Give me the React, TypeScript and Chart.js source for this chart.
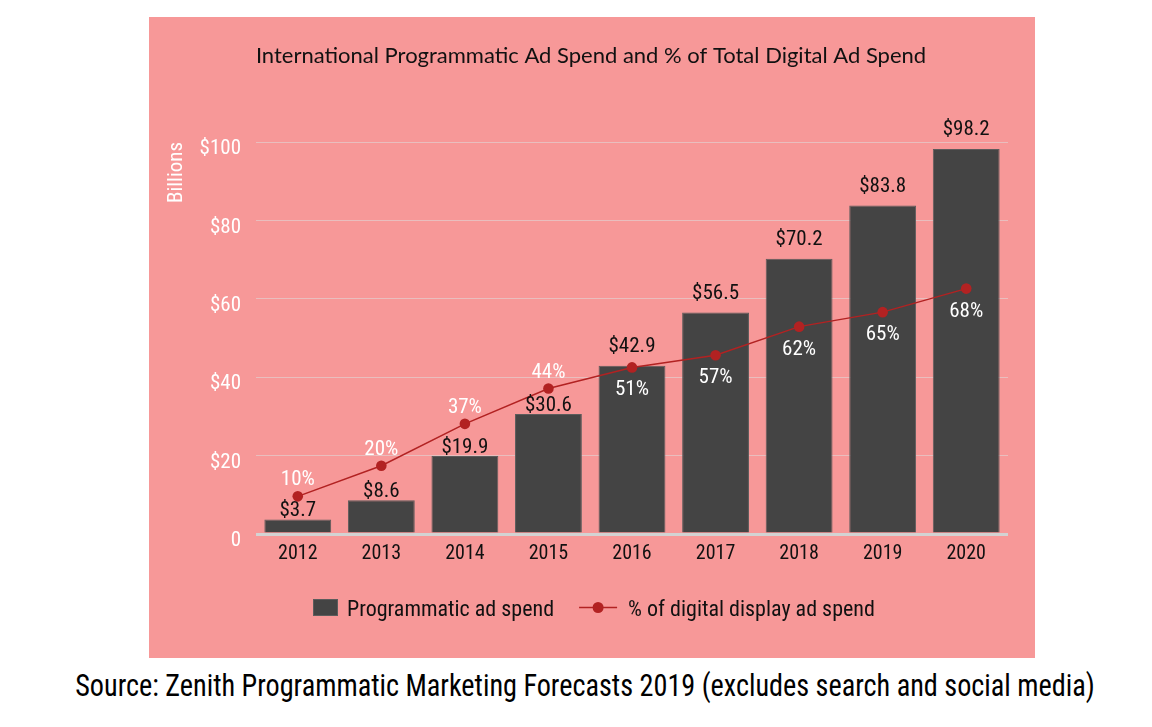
import { useEffect, useRef } from 'react';
import { Chart, registerables } from 'chart.js';

Chart.register(...registerables);

// ---- data ----
const years = ['2012', '2013', '2014', '2015', '2016', '2017', '2018', '2019', '2020'];
const spendBillions = [3.7, 8.6, 19.9, 30.6, 42.9, 56.5, 70.2, 83.8, 98.2];
const shareOfDisplayPct = [10, 20, 37, 44, 51, 57, 62, 65, 68];
// height of each share marker as drawn in the picture, read on the left axis
const sharePointLevel = [9.6, 17.4, 28.1, 37.1, 42.5, 45.6, 52.9, 56.6, 62.6];
const yTickValues = [0, 20, 40, 60, 80, 100];

const titleText = 'International Programmatic Ad Spend and % of Total Digital Ad Spend';
const sourceText = 'Source: Zenith Programmatic Marketing Forecasts 2019 (excludes search and social media)';

// ---- styles ----
const COND = '"Roboto Condensed", "DejaVu Sans Condensed", sans-serif';
const PINK = '#f79898';
const BAR = '#444444';
const RED = '#b22222';

const annotationPlugin = {
  id: 'annotations',
  afterDraw(chart: any) {
    const ctx = chart.ctx as CanvasRenderingContext2D;
    const barMeta = chart.getDatasetMeta(0);
    const lineMeta = chart.getDatasetMeta(1);
    ctx.save();
    ctx.font = `21px ${COND}`;
    ctx.textAlign = 'center';
    ctx.textBaseline = 'alphabetic';
    barMeta.data.forEach((bar: any, i: number) => {
      const pt = lineMeta.data[i];
      const above = pt.y < bar.y;
      ctx.fillStyle = '#111111';
      ctx.fillText('$' + spendBillions[i].toFixed(1), bar.x, bar.y - (above ? 3 : 14));
      ctx.fillStyle = '#ffffff';
      ctx.fillText(shareOfDisplayPct[i] + '%', bar.x, above ? pt.y - 11 : pt.y + 28);
    });

    // title
    ctx.font = '22px Lato, "Open Sans", sans-serif';
    ctx.fillStyle = '#111111';
    ctx.textAlign = 'center';
    ctx.fillText(titleText, chart.width / 2 - 1, 46);

    // legend
    const ds = chart.data.datasets;
    ctx.font = `22px ${COND}`;
    ctx.textAlign = 'left';
    let x = 164;
    const base = 599;
    const midY = 590.5;
    ctx.fillStyle = BAR;
    ctx.fillRect(x, 582, 25, 17);
    ctx.strokeStyle = '#5c5c5c';
    ctx.lineWidth = 1;
    ctx.strokeRect(x + 0.5, 582.5, 24, 16);
    x += 25 + 9;
    ctx.fillStyle = '#111111';
    ctx.fillText(ds[0].label, x, base);
    x += ctx.measureText(ds[0].label).width + 25;
    ctx.strokeStyle = RED;
    ctx.lineWidth = 1.5;
    ctx.beginPath();
    ctx.moveTo(x, midY);
    ctx.lineTo(x + 38, midY);
    ctx.stroke();
    ctx.fillStyle = RED;
    ctx.beginPath();
    ctx.arc(x + 19, midY, 5.5, 0, Math.PI * 2);
    ctx.fill();
    x += 38 + 11;
    ctx.fillStyle = '#111111';
    ctx.fillText(ds[1].label, x, base);
    ctx.restore();
  },
};

export default function App() {
  const ref = useRef<HTMLCanvasElement>(null);

  useEffect(() => {
    const chart = new Chart(ref.current as HTMLCanvasElement, {
      type: 'bar',
      data: {
        labels: years,
        datasets: [
          {
            type: 'bar',
            label: 'Programmatic ad spend',
            data: spendBillions,
            backgroundColor: BAR,
            borderColor: '#5c5c5c',
            borderWidth: 1,
            barPercentage: 0.8,
            categoryPercentage: 1,
            order: 1,
          } as any,
          {
            type: 'line',
            label: '% of digital display ad spend',
            data: sharePointLevel,
            borderColor: RED,
            borderWidth: 1.5,
            pointRadius: 5.3,
            pointBackgroundColor: RED,
            pointBorderWidth: 0,
            tension: 0,
            order: 0,
          } as any,
        ],
      },
      options: {
        animation: false,
        responsive: false,
        devicePixelRatio: 1,
        layout: { padding: { top: 125, right: 27, bottom: 84, left: 0 } },
        plugins: {
          legend: { display: false },
          title: { display: false },
          tooltip: { enabled: false },
        },
        scales: {
          x: {
            grid: { display: false, drawTicks: false },
            border: { display: false },
            ticks: { color: '#111111', font: { family: COND, size: 20 }, padding: 8 },
            afterFit: (s: any) => {
              s.height = 40;
            },
          },
          y: {
            min: 0,
            max: 100,
            afterBuildTicks: (s: any) => {
              s.ticks = yTickValues.map((v) => ({ value: v }));
            },
            grid: {
              drawTicks: false,
              color: (c: any) => (c.tick && c.tick.value === 0 ? '#d3d3d3' : 'rgba(222,222,222,0.55)'),
              lineWidth: (c: any) => (c.tick && c.tick.value === 0 ? 3 : 1),
            },
            border: { display: false },
            ticks: {
              color: '#ffffff',
              font: { family: COND, size: 21 },
              padding: 15,
              labelOffset: 7,
              callback: (v: any) => (Number(v) === 0 ? '0' : '$' + v),
            },
            title: {
              display: true,
              text: 'Billions',
              align: 'end',
              color: '#ffffff',
              font: { family: COND, size: 21 },
              padding: { top: 15, bottom: 0 },
            },
            afterFit: (s: any) => {
              s.width = 107;
            },
          },
        },
      } as any,
      plugins: [annotationPlugin],
    });
    return () => chart.destroy();
  }, []);

  return (
    <div style={{ position: 'absolute', left: 0, top: 0, width: 1152, height: 727, background: '#ffffff', overflow: 'hidden' }}>
      <div style={{ position: 'absolute', left: 149, top: 17, width: 886, height: 641, background: PINK }}>
        <canvas ref={ref} width={886} height={641} style={{ width: 886, height: 641, display: 'block' }} />
      </div>
      <div
        style={{
          position: 'absolute',
          left: 0,
          top: 668,
          width: 1170,
          textAlign: 'center',
          fontFamily: COND,
          fontSize: 31,
          lineHeight: '36px',
          color: '#000000',
          whiteSpace: 'nowrap',
          transform: 'scaleX(0.91)',
          transformOrigin: '585px 50%',
        }}
      >
        {sourceText}
      </div>
    </div>
  );
}
